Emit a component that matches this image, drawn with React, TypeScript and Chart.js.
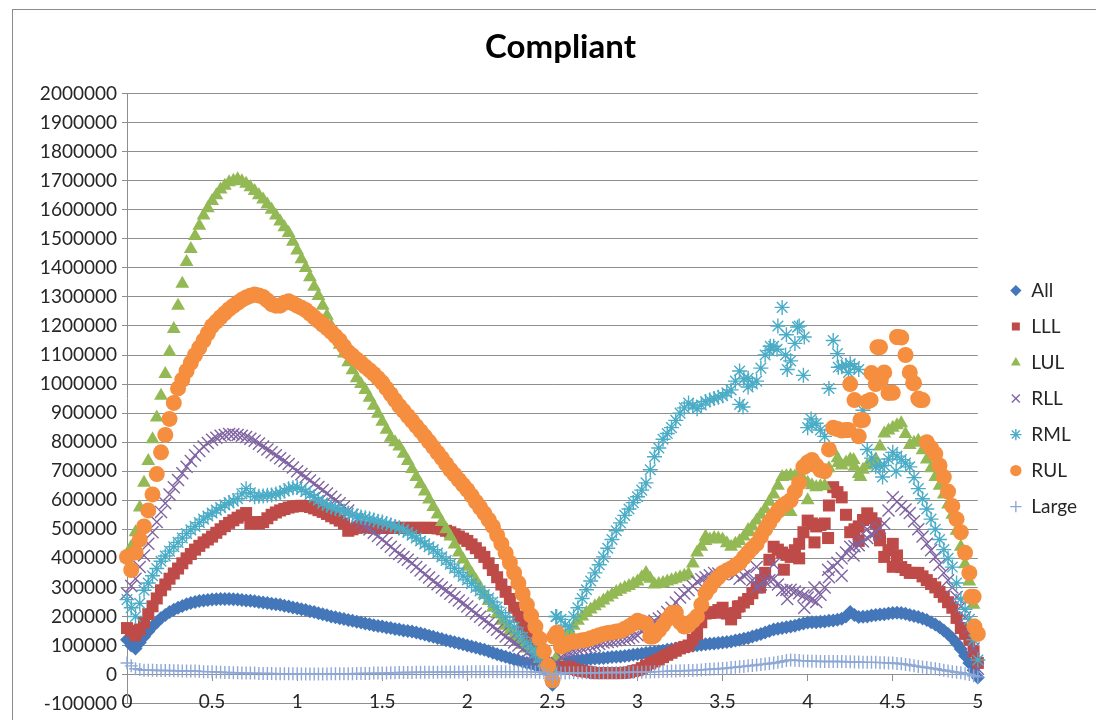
import { useEffect, useRef } from "react";
import { Chart, registerables } from "chart.js";

Chart.register(...registerables);

// x positions shared by the regular part of every series
const xGrid = [
  0, 0.025, 0.05, 0.075, 0.1, 0.125, 0.15, 0.175, 0.2, 0.225,
  0.25, 0.275, 0.3, 0.325, 0.35, 0.375, 0.4, 0.425, 0.45, 0.475,
  0.5, 0.525, 0.55, 0.575, 0.6, 0.625, 0.65, 0.675, 0.7, 0.725,
  0.75, 0.775, 0.8, 0.825, 0.85, 0.875, 0.9, 0.925, 0.95, 0.975,
  1, 1.025, 1.05, 1.075, 1.1, 1.125, 1.15, 1.175, 1.2, 1.225,
  1.25, 1.275, 1.3, 1.325, 1.35, 1.375, 1.4, 1.425, 1.45, 1.475,
  1.5, 1.525, 1.55, 1.575, 1.6, 1.625, 1.65, 1.675, 1.7, 1.725,
  1.75, 1.775, 1.8, 1.825, 1.85, 1.875, 1.9, 1.925, 1.95, 1.975,
  2, 2.025, 2.05, 2.075, 2.1, 2.125, 2.15, 2.175, 2.2, 2.225,
  2.25, 2.275, 2.3, 2.325, 2.35, 2.375, 2.4, 2.425, 2.45, 2.475,
  2.5, 2.525, 2.55, 2.575, 2.6, 2.625, 2.65, 2.675, 2.7, 2.725,
  2.75, 2.775, 2.8, 2.825, 2.85, 2.875, 2.9, 2.925, 2.95, 2.975,
  3, 3.025, 3.05, 3.075, 3.1, 3.125, 3.15, 3.175, 3.2, 3.225,
  3.25, 3.275, 3.3, 3.325, 3.35, 3.375, 3.4, 3.425, 3.45, 3.475,
  3.5, 3.525, 3.55, 3.575, 3.6, 3.625, 3.65, 3.675, 3.7, 3.725,
  3.75, 3.775, 3.8, 3.825, 3.85, 3.875, 3.9, 3.925, 3.95, 3.975,
  4, 4.025, 4.05, 4.075, 4.1, 4.125, 4.15, 4.175, 4.2, 4.225,
  4.25, 4.275, 4.3, 4.325, 4.35, 4.375, 4.4, 4.425, 4.45, 4.475,
  4.5, 4.525, 4.55, 4.575, 4.6, 4.625, 4.65, 4.675, 4.7, 4.725,
  4.75, 4.775, 4.8, 4.825, 4.85, 4.875, 4.9, 4.925, 4.95, 4.975,
  5,
];

// values in thousands, one per xGrid position
const allK = [
  120, 100, 90, 110, 130, 148, 165, 180, 195, 205,
  215, 223, 230, 236, 242, 246, 250, 253, 255, 257,
  258, 259, 260, 260, 260, 259, 258, 257, 255, 254,
  252, 250, 248, 246, 244, 242, 240, 237, 234, 231,
  228, 225, 222, 218, 215, 211, 208, 204, 200, 197,
  194, 191, 188, 185, 182, 179, 176, 173, 170, 167,
  165, 162, 160, 157, 155, 152, 150, 148, 145, 141,
  138, 134, 130, 126, 122, 118, 115, 111, 108, 104,
  100, 97, 93, 89, 85, 80, 75, 70, 66, 61,
  57, 52, 48, 44, 40, 36, 32, 26, 20, 10,
  -35, 20, 35, 40, 45, 48, 50, 51, 52, 54,
  55, 56, 57, 59, 60, 61, 62, 64, 66, 68,
  70, 72, 74, 76, 78, 80, 82, 85, 87, 90,
  92, 95, 97, 99, 101, 103, 104, 106, 107, 109,
  110, 112, 114, 117, 120, 123, 126, 131, 135, 140,
  145, 150, 155, 158, 160, 163, 165, 168, 172, 176,
  179, 180, 180, 182, 183, 185, 186, 189, 192, 200,
  215, 205, 198, 199, 200, 203, 205, 207, 208, 210,
  212, 213, 212, 209, 205, 202, 198, 193, 188, 180,
  172, 163, 152, 140, 125, 108, 88, 65, 40, 15,
  -10,
];
const lllK = [
  160, 150, 135, 155, 180, 208, 235, 262, 290, 310,
  330, 348, 365, 383, 400, 415, 430, 443, 455, 465,
  475, 488, 500, 511, 522, 531, 540, 548, 556, 520,
  525, 520, 525, 538, 550, 558, 565, 570, 575, 578,
  580, 581, 580, 577, 572, 566, 560, 553, 545, 538,
  530, 520, 495, 500, 505, 507, 508, 506, 505, 505,
  505, 505, 505, 505, 505, 505, 505, 505, 505, 505,
  505, 505, 505, 503, 500, 495, 490, 483, 475, 468,
  460, 448, 435, 420, 405, 383, 360, 335, 310, 285,
  260, 230, 200, 170, 140, 115, 90, 68, 45, 25,
  10, 40, 30, 28, 25, 20, 15, 12, 10, 8,
  5, 5, 5, 5, 5, 5, 5, 6, 8, 12,
  15, 22, 30, 38, 45, 52, 60, 68, 75, 82,
  90, 95, 100, 120, 140, 180, 210, 212, 215, 222,
  230, 210, 190, 212, 235, 248, 260, 280, 300, 325,
  350, 395, 440, 430, 420, 412, 405, 428, 450, 490,
  530, 520, 510, 515, 520, 582, 645, 628, 610, 550,
  490, 500, 510, 532, 555, 538, 520, 462, 405, 428,
  450, 410, 370, 360, 350, 350, 350, 338, 325, 312,
  300, 284, 268, 249, 230, 195, 160, 140, 120, 80,
  40,
];
const lulK = [
  400, 440, 490, 575, 660, 735, 810, 885, 960, 1035,
  1110, 1190, 1270, 1345, 1420, 1465, 1510, 1545, 1580, 1605,
  1630, 1650, 1670, 1683, 1695, 1700, 1705, 1698, 1690, 1678,
  1665, 1650, 1635, 1618, 1600, 1580, 1560, 1540, 1520, 1490,
  1460, 1430, 1400, 1368, 1335, 1303, 1270, 1235, 1200, 1168,
  1135, 1105, 1075, 1048, 1020, 1000, 980, 953, 925, 898,
  870, 843, 815, 800, 785, 760, 735, 708, 680, 655,
  630, 603, 577, 551, 525, 500, 475, 448, 420, 396,
  371, 348, 325, 300, 275, 253, 230, 208, 185, 168,
  150, 133, 115, 103, 90, 80, 70, 55, 40, 25,
  10, 60, 110, 130, 150, 168, 185, 200, 213, 224,
  235, 245, 255, 265, 275, 284, 292, 299, 305, 313,
  320, 335, 350, 330, 310, 312, 315, 320, 325, 330,
  335, 340, 345, 382, 420, 440, 460, 465, 470, 468,
  465, 452, 440, 450, 460, 475, 490, 510, 530, 550,
  570, 595, 620, 650, 680, 683, 685, 683, 680, 670,
  660, 652, 645, 648, 650, 710, 770, 745, 720, 730,
  740, 715, 690, 705, 720, 730, 740, 785, 830, 840,
  850, 858, 865, 828, 790, 798, 805, 772, 740, 710,
  680, 650, 620, 585, 550, 495, 440, 380, 320, 240,
  160,
];
const rllK = [
  280, 305, 330, 370, 410, 450, 490, 525, 560, 590,
  620, 645, 670, 693, 715, 735, 755, 770, 785, 797,
  808, 815, 822, 825, 828, 827, 825, 822, 818, 812,
  805, 795, 785, 775, 765, 755, 745, 735, 725, 713,
  700, 690, 680, 668, 657, 646, 635, 623, 612, 601,
  590, 578, 565, 550, 535, 522, 510, 499, 488, 477,
  465, 453, 440, 428, 415, 405, 395, 383, 370, 358,
  345, 334, 322, 311, 300, 289, 278, 267, 255, 245,
  234, 222, 210, 199, 188, 177, 165, 154, 142, 131,
  120, 110, 100, 88, 75, 65, 55, 43, 30, 20,
  10, 40, 60, 68, 75, 80, 85, 90, 95, 98,
  100, 105, 110, 112, 115, 118, 120, 122, 125, 130,
  135, 148, 160, 172, 185, 193, 200, 215, 230, 248,
  265, 278, 290, 305, 320, 328, 335, 342, 350, 348,
  345, 352, 360, 345, 330, 340, 350, 325, 300, 310,
  320, 325, 330, 310, 290, 291, 292, 286, 280, 272,
  265, 258, 250, 275, 300, 335, 371, 385, 400, 420,
  440, 442, 445, 458, 470, 480, 490, 505, 520, 565,
  610, 595, 580, 568, 556, 528, 500, 475, 450, 428,
  405, 378, 350, 325, 300, 267, 234, 197, 160, 90,
  20,
];
const rmlK = [
  258, 230, 200, 245, 290, 315, 340, 365, 390, 408,
  425, 440, 455, 470, 485, 498, 510, 523, 535, 546,
  556, 566, 575, 584, 592, 598, 605, 622, 640, 626,
  612, 614, 615, 617, 618, 622, 625, 632, 640, 643,
  645, 638, 630, 620, 610, 600, 590, 583, 577, 572,
  568, 562, 555, 550, 545, 542, 540, 536, 532, 528,
  525, 520, 515, 510, 505, 498, 490, 480, 470, 460,
  450, 440, 430, 418, 405, 393, 380, 366, 352, 339,
  326, 313, 300, 288, 275, 263, 250, 232, 213, 197,
  180, 163, 145, 128, 110, 93, 75, 60, 45, 28,
  10, 200, 190, 170, 165, 200, 230, 262, 292, 322,
  350, 378, 405, 435, 465, 495, 522, 548, 570, 592,
  612, 635, 660, 705, 750, 780, 810, 830, 850, 875,
  900, 918, 935, 925, 915, 928, 940, 945, 950, 955,
  960, 970, 980, 1010, 1045, 1018, 990, 1000, 1010, 1055,
  1100, 1115, 1130, 1200, 1264, 1170, 1080, 1140, 1200, 1030,
  850, 858, 865, 842, 820, 985, 1150, 1105, 1060, 1065,
  1070, 1060, 1050, 910, 775, 745, 715, 718, 720, 742,
  765, 752, 740, 728, 715, 678, 640, 605, 570, 535,
  500, 465, 430, 400, 370, 315, 260, 225, 190, 120,
  50,
];
const rulK = [
  405, 360, 420, 465, 510, 565, 620, 690, 765, 825,
  880, 935, 985, 1015, 1045, 1073, 1100, 1125, 1150, 1175,
  1200, 1215, 1230, 1244, 1258, 1269, 1280, 1290, 1298, 1304,
  1308, 1305, 1300, 1288, 1275, 1270, 1270, 1280, 1285, 1278,
  1270, 1263, 1255, 1243, 1230, 1218, 1205, 1193, 1180, 1165,
  1150, 1130, 1110, 1098, 1085, 1073, 1060, 1048, 1035, 1020,
  1005, 985, 965, 945, 925, 908, 890, 873, 855, 838,
  820, 802, 783, 764, 745, 725, 705, 688, 670, 653,
  636, 616, 595, 575, 555, 533, 510, 480, 450, 418,
  385, 350, 315, 278, 240, 203, 165, 123, 80, 30,
  -20, 144, 96, 103, 110, 113, 115, 118, 120, 125,
  130, 135, 140, 143, 145, 148, 150, 158, 165, 175,
  185, 180, 175, 131, 135, 152, 170, 190, 210, 213,
  180, 165, 170, 185, 200, 240, 280, 300, 320, 335,
  350, 358, 365, 375, 385, 403, 420, 435, 450, 475,
  500, 523, 545, 563, 580, 590, 600, 630, 660, 715,
  730, 739, 720, 704, 700, 775, 850, 845, 840, 842,
  1000, 945, 820, 876, 940, 1038, 1000, 1127, 1040, 969,
  970, 1162, 1160, 1100, 1040, 1003, 950, 945, 800, 780,
  760, 720, 680, 630, 580, 535, 490, 419, 350, 268,
  140,
];
const largeK = [
  40, 30, 20, 17, 15, 15, 15, 14, 14, 14,
  14, 13, 13, 12, 12, 12, 12, 11, 10, 10,
  10, 9, 8, 7, 7, 6, 6, 5, 5, 5,
  5, 4, 4, 4, 4, 3, 3, 3, 3, 3,
  3, 2, 2, 2, 2, 2, 2, 2, 3, 3,
  3, 3, 3, 3, 4, 4, 4, 4, 5, 5,
  5, 5, 6, 6, 7, 7, 7, 7, 8, 8,
  8, 8, 8, 8, 9, 9, 9, 9, 9, 9,
  10, 10, 10, 10, 10, 10, 10, 10, 10, 10,
  10, 10, 10, 10, 10, 10, 9, 8, 6, 0,
  -15, 0, 5, 5, 6, 6, 6, 6, 6, 6,
  6, 6, 7, 7, 7, 7, 7, 7, 8, 8,
  8, 8, 9, 9, 10, 10, 11, 11, 12, 12,
  13, 13, 14, 14, 15, 16, 17, 18, 19, 20,
  21, 22, 24, 25, 27, 28, 30, 31, 33, 35,
  36, 38, 40, 42, 45, 48, 50, 49, 48, 47,
  47, 46, 46, 45, 45, 45, 45, 45, 45, 44,
  44, 43, 43, 42, 42, 42, 42, 41, 41, 40,
  40, 38, 37, 35, 33, 30, 28, 26, 24, 22,
  20, 17, 15, 12, 10, 8, 6, 3, 0, -4,
  -8,
];

// scattered extra readings [x, value in thousands]
const lllExtra = [
  [3.49, 213], [3.59, 234], [3.72, 300], [3.86, 361], [3.95, 400],
  [4.04, 455], [4.12, 470], [4.3, 460], [4.42, 480], [4.5, 371],
];
const lulExtra = [
  [3.4, 474], [3.65, 498], [3.9, 560], [4.0, 600], [4.18, 728],
  [4.27, 739], [4.31, 680],
];
const rllExtra = [
  [3.7, 370], [3.8, 380], [3.88, 260], [3.98, 230], [4.04, 300],
  [4.12, 361], [4.2, 340], [4.27, 410], [4.35, 500],
];
const rmlExtra = [
  [2.52, 200], [3.6, 930], [3.62, 921], [3.65, 1020], [3.78, 1130],
  [3.82, 1120], [3.87, 1100], [3.88, 1050], [3.94, 1196], [3.98, 1162],
  [4.02, 880], [4.18, 1058], [4.24, 1040], [4.44, 680], [4.52, 700],
];
const rulExtra = [
  [2.51, 130], [3.09, 131], [3.21, 213], [3.98, 715], [4.24, 842],
  [4.31, 876], [4.37, 945], [4.41, 1127], [4.43, 1014], [4.53, 1162],
  [4.62, 1003], [4.66, 945], [4.96, 268], [4.98, 165],
];

const seriesNames = ["All", "LLL", "LUL", "RLL", "RML", "RUL", "Large"];
const seriesValues = [allK, lllK, lulK, rllK, rmlK, rulK, largeK];
const seriesExtras = [[], lllExtra, lulExtra, rllExtra, rmlExtra, rulExtra, []];

const yTickMin = -100000;
const yTickMax = 2000000;
const yTickStep = 100000;
const xTickMin = 0;
const xTickMax = 5;
const xTickStep = 0.5;

const seriesStyles = [
  { color: "#4477BA", pointStyle: "rectRot", radius: 7, border: 0 },
  { color: "#BE4B48", pointStyle: "rect", radius: 8.5, border: 0 },
  { color: "#93B955", pointStyle: "triangle", radius: 8, border: 0 },
  { color: "#8064A2", pointStyle: "crossRot", radius: 8.5, border: 1.4 },
  { color: "#4BACC6", pointStyle: "star", radius: 7.5, border: 1.4 },
  { color: "#F58E3F", pointStyle: "circle", radius: 8, border: 0 },
  { color: "#8EA8D6", pointStyle: "cross", radius: 6.5, border: 1.4 },
];

function buildPoints(vals: number[], extra: number[][]) {
  const pts = vals.map((v, i) => ({ x: xGrid[i], y: v * 1000 }));
  extra.forEach(([x, v]) => pts.push({ x, y: v * 1000 }));
  return pts;
}

const boxShift = {
  id: "boxShift",
  afterLayout(chart: any) {
    const l = chart.legend;
    if (l) {
      l.left += 15;
      l.right += 15;
    }
    const t = chart.titleBlock;
    if (t) {
      t.left += 18;
      t.right += 18;
    }
  },
};

export default function App() {
  const ref = useRef<HTMLCanvasElement | null>(null);

  useEffect(() => {
    document.body.style.overflow = "hidden";
    if (!ref.current) return;
    const gridColor = "#8E8E8E";
    const textColor = "#262626";
    const font = "Lato";
    const datasets = seriesNames.map((name, i) => {
      const s = seriesStyles[i];
      return {
        label: name,
        data: buildPoints(seriesValues[i], seriesExtras[i]),
        showLine: false,
        pointStyle: s.pointStyle as any,
        pointRadius: s.radius,
        pointHoverRadius: s.radius,
        pointBackgroundColor: s.color,
        pointBorderColor: s.color,
        pointBorderWidth: s.border,
        backgroundColor: s.color,
        borderColor: s.color,
        borderWidth: s.border,
        order: seriesNames.length - i,
        clip: false as any,
      };
    });
    const chart = new Chart(ref.current, {
      type: "scatter",
      data: { datasets },
      plugins: [boxShift],
      options: {
        animation: false,
        responsive: false,
        events: [],
        layout: { padding: { left: 0, right: 25, top: 0, bottom: 16 } },
        plugins: {
          title: {
            display: true,
            text: "Compliant",
            color: "#000",
            font: { family: font, size: 33, weight: "bold" },
            padding: { top: 18, bottom: 26 },
          },
          legend: {
            position: "right",
            fullSize: false,
            labels: {
              usePointStyle: true,
              boxWidth: 12,
              boxHeight: 8,
              padding: 17,
              color: textColor,
              font: { family: font, size: 19 },
              sort: (a: any, b: any) => a.datasetIndex - b.datasetIndex,
            },
          },
          tooltip: { enabled: false },
        },
        scales: {
          x: {
            type: "linear",
            position: { y: 0 } as any,
            min: xTickMin,
            max: xTickMax,
            grid: {
              display: true,
              drawOnChartArea: false,
              drawTicks: true,
              tickLength: 6,
              color: gridColor,
            },
            border: { display: true, color: gridColor, width: 1 },
            ticks: {
              stepSize: xTickStep,
              autoSkip: false,
              maxRotation: 0,
              padding: 10,
              color: textColor,
              font: { family: font, size: 19 },
              callback: (v: any) => String(Math.round(Number(v) * 10) / 10),
            },
          },
          y: {
            type: "linear",
            position: "left",
            min: yTickMin,
            max: yTickMax,
            afterFit: (s: any) => {
              s.width = 114;
            },
            grid: {
              color: gridColor,
              tickLength: 5,
              drawTicks: true,
            },
            border: { display: true, color: gridColor, width: 1 },
            ticks: {
              stepSize: yTickStep,
              autoSkip: false,
              padding: 5,
              color: textColor,
              font: { family: font, size: 19 },
              callback: (v: any) => String(v),
            },
          },
        },
      },
    });
    return () => chart.destroy();
  }, []);

  return (
    <div
      style={{
        marginLeft: 4,
        marginTop: 1,
        width: 1084,
        height: 710,
        border: "1px solid #8c8c8c",
        borderBottom: "none",
        background: "#fff",
      }}
    >
      <canvas ref={ref} width={1084} height={710} style={{ display: "block" }} />
    </div>
  );
}
